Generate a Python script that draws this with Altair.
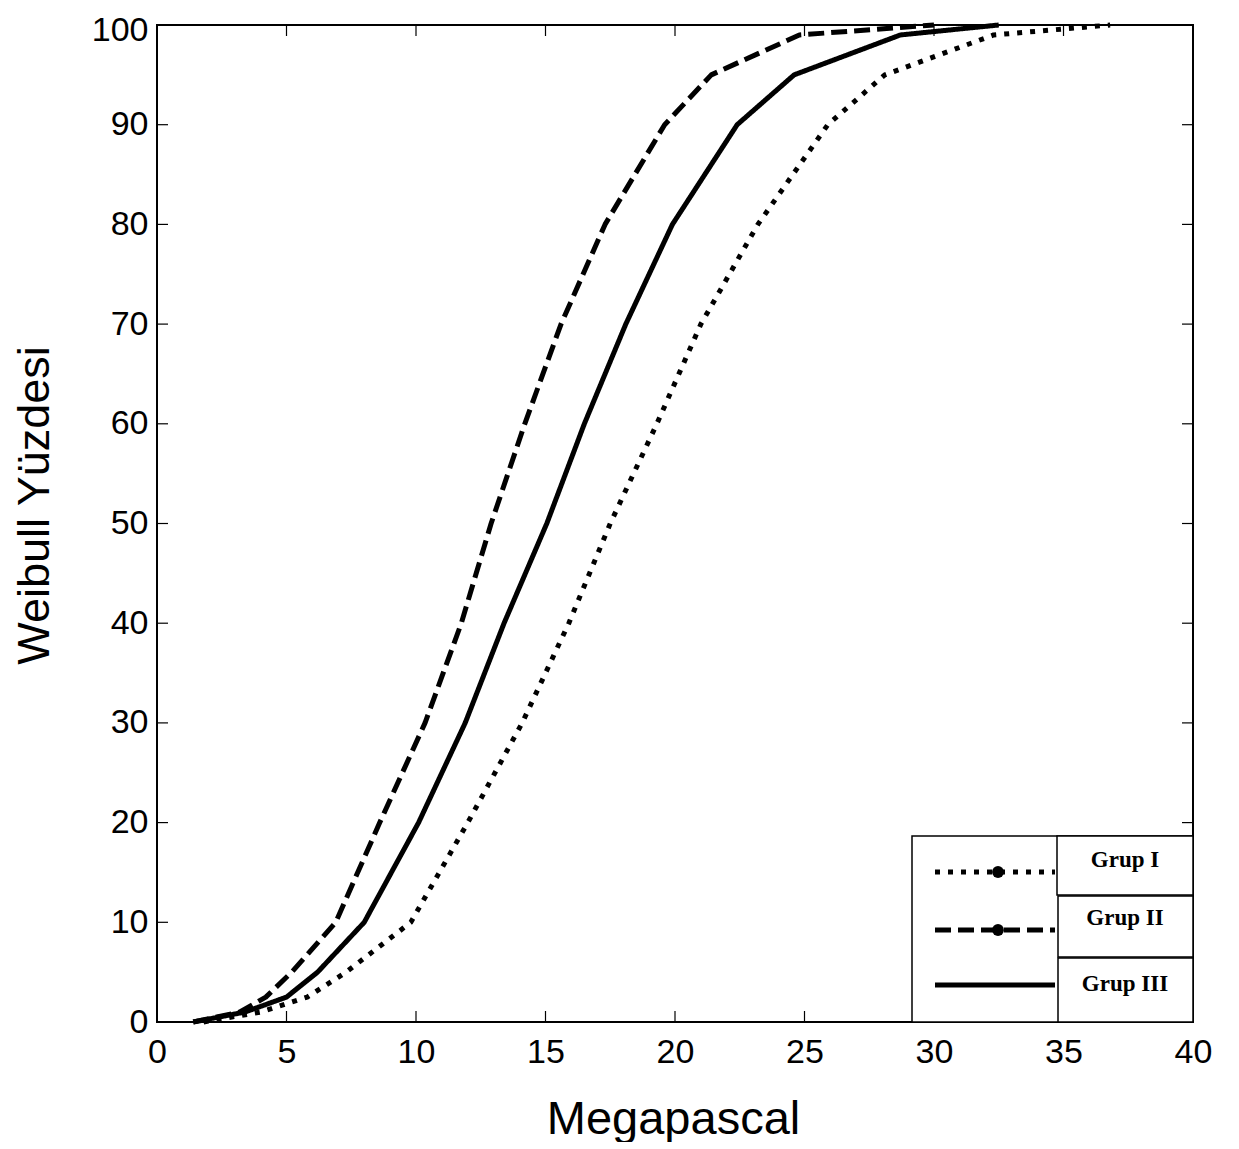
import altair as alt
import pandas as pd

names = ["Grup I", "Grup II", "Grup III"]

# Weibull percent levels at which the curves were read
levels = [0, 1, 2.5, 5, 10, 20, 30, 40, 50, 60, 70, 80, 90, 95, 99, 100]

# Megapascal values for each group at those levels
g1_x = [1.8, 4.0, 5.8, 7.3, 9.8, 12.0, 14.1, 15.9, 17.5, 19.3, 21.0, 23.2, 25.9, 28.1, 32.3, 36.8]
g2_x = [1.4, 3.2, 4.2, 5.2, 6.9, 8.6, 10.35, 11.75, 12.9, 14.2, 15.6, 17.3, 19.6, 21.4, 24.8, 30.0]
g3_x = [1.4, 3.4, 5.0, 6.2, 8.0, 10.1, 11.9, 13.4, 15.05, 16.5, 18.1, 19.9, 22.4, 24.6, 28.7, 32.5]

x_ticks = [0, 5, 10, 15, 20, 25, 30, 35, 40]
y_ticks = [0, 10, 20, 30, 40, 50, 60, 70, 80, 90, 100]

W, H = 1036, 997

rows = []
for name, xs in zip(names, [g1_x, g2_x, g3_x]):
    for i, (a, b) in enumerate(zip(xs, levels)):
        rows.append({"group": name, "x": a, "y": b, "o": i})
df = pd.DataFrame(rows)

FONT = "Liberation Sans"
xscale = alt.Scale(domain=[0, 40], nice=False, zero=False)
yscale = alt.Scale(domain=[0, 100], nice=False, zero=False)
xaxis = alt.Axis(values=x_ticks, title="Megapascal", grid=False, domain=False, ticks=False, tickSize=0,
                 labelFont=FONT, labelFontSize=34, labelColor="black", labelPadding=40,
                 labelBaseline="alphabetic", labelFlush=False, labelOverlap=False,
                 titleFont=FONT, titleFontSize=47, titleFontWeight="normal", titleColor="black",
                 titleX=516, titleY=111, titleBaseline="alphabetic", titleAlign="center")
yaxis = alt.Axis(values=y_ticks, title="Weibull Yüzdesi", grid=False, domain=False, ticks=False, tickSize=0,
                 labelFont=FONT, labelFontSize=34, labelColor="black", labelPadding=9,
                 labelFlush=False, labelOverlap=False,
                 labelOffset={"condition": {"test": "datum.value == 100", "value": 5}, "value": 0},
                 titleFont=FONT, titleFontSize=45, titleFontWeight="normal", titleColor="black",
                 titleAngle=-90, titleX=-123, titleY=480, titleBaseline="middle", titleAlign="center")

dashes = [[5, 8], [16, 7], [1, 0]]

lines = alt.Chart(df).mark_line(color="black", strokeWidth=5, strokeCap="butt", strokeJoin="round").encode(
    x=alt.X("x:Q", scale=xscale, axis=xaxis),
    y=alt.Y("y:Q", scale=yscale, axis=yaxis),
    strokeDash=alt.StrokeDash("group:N", scale=alt.Scale(domain=names, range=dashes), legend=None),
    order="o:Q",
)

xt = pd.DataFrame({"x": x_ticks})
yt = pd.DataFrame({"y": y_ticks})
TL = 11
tick_b = alt.Chart(xt).mark_rule(color="black", strokeWidth=1.2).encode(
    x=alt.X("x:Q", scale=xscale, axis=xaxis), y=alt.value(H), y2=alt.value(H - TL))
tick_t = alt.Chart(xt).mark_rule(color="black", strokeWidth=1.2).encode(
    x=alt.X("x:Q", scale=xscale, axis=xaxis), y=alt.value(0), y2=alt.value(TL))
tick_l = alt.Chart(yt).mark_rule(color="black", strokeWidth=1.2).encode(
    y=alt.Y("y:Q", scale=yscale, axis=yaxis), x=alt.value(0), x2=alt.value(TL))
tick_r = alt.Chart(yt).mark_rule(color="black", strokeWidth=1.2).encode(
    y=alt.Y("y:Q", scale=yscale, axis=yaxis), x=alt.value(W), x2=alt.value(W - TL))

one = pd.DataFrame({"k": [0]})
legend_layers = []
legend_layers.append(alt.Chart(one).mark_rect(fill="white", stroke="black", strokeWidth=1.5).encode(
    x=alt.value(755), x2=alt.value(W), y=alt.value(811), y2=alt.value(H)))
box_y = [(811, 870), (871, 932), (933, H)]
line_y = [847, 905, 960]
text_y = [835, 893, 959]
for i, name in enumerate(names):
    legend_layers.append(alt.Chart(one).mark_rect(fill="white", stroke="black", strokeWidth=1.5).encode(
        x=alt.value(900 if i == 0 else 901), x2=alt.value(W), y=alt.value(box_y[i][0]), y2=alt.value(box_y[i][1])))
    legend_layers.append(alt.Chart(one).mark_text(text=name, font="Liberation Serif", fontWeight="bold",
                                                  fontSize=23, color="black", align="center", baseline="middle").encode(
        x=alt.value(968), y=alt.value(text_y[i])))
    legend_layers.append(alt.Chart(one).mark_rule(color="black", strokeWidth=5, strokeDash=dashes[i],
                                                  strokeCap="butt").encode(
        x=alt.value(778), x2=alt.value(898), y=alt.value(line_y[i])))
    if i < 2:
        legend_layers.append(alt.Chart(one).mark_point(filled=True, color="black", size=140, opacity=1).encode(
            x=alt.value(841), y=alt.value(line_y[i])))

chart = alt.layer(lines, tick_b, tick_t, tick_l, tick_r, *legend_layers).properties(
    width=W, height=H,
    autosize=alt.AutoSizeParams(type="none"),
    padding={"left": 149, "top": 17, "right": 30, "bottom": 120},
    background="white",
).configure_view(stroke="black", strokeWidth=2)

chart.save("out.html", embed_options={"renderer": "svg", "actions": False})
